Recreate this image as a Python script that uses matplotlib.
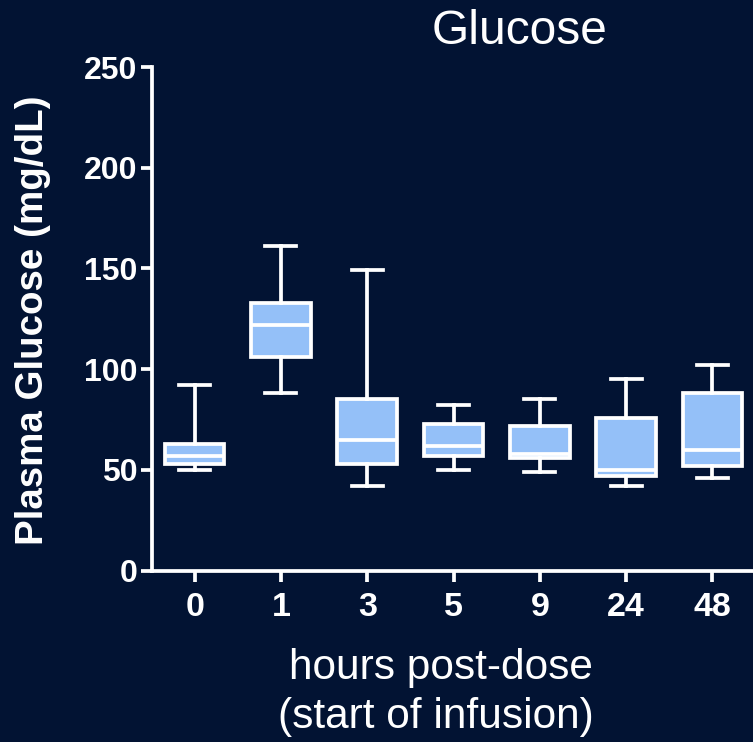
import matplotlib
matplotlib.use("Agg")
import matplotlib.pyplot as plt

# hours post-dose and plasma glucose box summaries (mg/dL)
hours = ["0", "1", "3", "5", "9", "24", "48"]
whislo = [50, 88, 42, 50, 49, 42, 46]
q1 = [53, 106, 53, 57, 56, 47, 52]
med = [57, 122, 65, 62, 58, 50, 60]
q3 = [63, 133, 85, 73, 72, 76, 88]
whishi = [92, 161, 149, 82, 85, 95, 102]

bg = "#021333"
fill = "#94c0f8"
plt.rcParams["font.family"] = ["Liberation Sans", "DejaVu Sans"]

fig = plt.figure(figsize=(7.53, 7.42), dpi=100, facecolor=bg)
ax = fig.add_axes([0.2012, 0.2309, 0.7988, 0.6788], facecolor=bg)

stats = []
for i, h in enumerate(hours):
    stats.append(dict(label=h, whislo=whislo[i], q1=q1[i], med=med[i],
                      q3=q3[i], whishi=whishi[i], fliers=[]))

lw = 2.7
ax.bxp(stats, positions=range(len(hours)), widths=0.69, capwidths=0.36,
       patch_artist=True, showfliers=False,
       boxprops=dict(facecolor=fill, edgecolor="white", linewidth=lw),
       medianprops=dict(color="white", linewidth=lw),
       whiskerprops=dict(color="white", linewidth=lw),
       capprops=dict(color="white", linewidth=lw))

ax.set_xlim(-0.5, 6.47)
ax.set_ylim(0, 250)
ax.set_yticks([0, 50, 100, 150, 200, 250])
ax.set_xticks(range(len(hours)))
ax.set_xticklabels(hours)

for s in ["top", "right"]:
    ax.spines[s].set_visible(False)
for s in ["left", "bottom"]:
    ax.spines[s].set_color("white")
    ax.spines[s].set_linewidth(lw)

ax.tick_params(axis="both", colors="white", width=lw, length=8)
ax.tick_params(axis="y", labelsize=23, pad=2)
ax.tick_params(axis="x", labelsize=24.5, pad=7)
for t in ax.get_xticklabels() + ax.get_yticklabels():
    t.set_fontweight("bold")

fig.text(520 / 753, 1 - 32 / 742, "Glucose", color="white", fontsize=34.5,
         ha="center", va="center")
fig.text(441 / 753, 1 - 668 / 742, "hours post-dose", color="white",
         fontsize=30.5, ha="center", va="center")
fig.text(436 / 753, 1 - 717 / 742, "(start of infusion)", color="white",
         fontsize=30.5, ha="center", va="center")
fig.text(33 / 753, 1 - 320 / 742, "Plasma Glucose (mg/dL)", color="white",
         fontsize=27.7, fontweight="bold", rotation=90, ha="center", va="center")

fig.savefig("out.png", dpi=100, facecolor=bg)
